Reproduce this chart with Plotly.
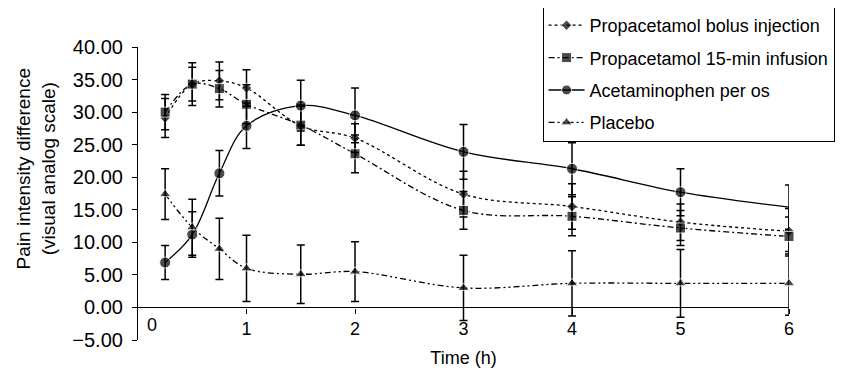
import plotly.graph_objects as go

time_h = [0.25, 0.5, 0.75, 1, 1.5, 2, 3, 4, 5, 6]

bolus = [29.1, 34.3, 34.8, 33.7, 27.9, 26.0, 17.4, 15.5, 13.1, 11.7]
bolus_err = [3.0, 3.3, 2.9, 2.8, 3.0, 2.2, 3.5, 3.5, 2.8, 3.5]

infusion = [30.0, 34.3, 33.6, 31.2, 28.0, 23.6, 14.9, 14.0, 12.2, 10.9]
infusion_err = [2.7, 2.6, 2.8, 3.0, 3.1, 2.9, 2.9, 3.0, 2.7, 3.0]

acetaminophen = [6.9, 11.2, 20.6, 27.9, 31.0, 29.5, 23.9, 21.3, 17.7, 15.4]
acetaminophen_err = [2.6, 3.5, 3.5, 3.5, 3.9, 4.2, 4.2, 4.0, 3.6, 3.4]

placebo = [17.4, 12.3, 9.0, 6.0, 5.1, 5.5, 3.0, 3.7, 3.7, 3.7]
placebo_err = [3.9, 4.3, 4.7, 5.1, 4.5, 4.6, 5.0, 5.0, 5.2, 4.9]

names = ["Propacetamol bolus injection", "Propacetamol 15-min infusion",
         "Acetaminophen per os", "Placebo"]

y_ticks = [-5, 0, 5, 10, 15, 20, 25, 30, 35, 40]
x_ticks = [1, 2, 3, 4, 5, 6]

FONT = "Liberation Sans, Arial, Helvetica, sans-serif"

series = [
    (names[0], bolus, bolus_err, "diamond", 8, "dot"),
    (names[1], infusion, infusion_err, "square", 10, "6px,3px,2px,3px"),
    (names[2], acetaminophen, acetaminophen_err, "circle", 11, "solid"),
    (names[3], placebo, placebo_err, "triangle-up", 10, "6px,3px,2px,3px,2px,3px"),
]

fig = go.Figure()
for i, (name, vals, err, sym, size, dash) in enumerate(series):
    sizes = [size] * len(vals)
    if name == "Acetaminophen per os":
        sizes[-1] = 0
    fig.add_trace(go.Scatter(
        x=time_h, y=vals, name=name, mode="lines+markers", legendgroup=f"g{i}",
        line=dict(color="black", width=1.3, dash=dash, shape="spline", smoothing=1.0),
        marker=dict(symbol=sym, size=sizes, color="black"),
        error_y=dict(type="data", array=err, visible=True, color="black",
                     thickness=1.5, width=4),
        cliponaxis=False,
    ))

fig.add_annotation(x=0, y=0, xref="x", yref="y", text="0", showarrow=False,
                   xanchor="center", yanchor="top", xshift=14, yshift=-6,
                   font=dict(family=FONT, size=18, color="black"))

# y-axis title (placed slightly above the axis centre, as in the original)
fig.add_annotation(x=-0.157, y=0.585, xref="paper", yref="paper",
                   text="Pain intensity difference<br>(visual analog scale)",
                   textangle=-90, showarrow=False, xanchor="center", yanchor="middle",
                   font=dict(family=FONT, size=19, color="black"))

fig.update_layout(
    width=846, height=372,
    margin=dict(l=130, r=65, t=39, b=40, autoexpand=False),
    paper_bgcolor="white", plot_bgcolor="white",
    font=dict(family=FONT, size=18, color="black"),
    showlegend=True,
    legend=dict(x=1.070, xanchor="right", y=1.14, yanchor="top",
                bgcolor="white", bordercolor="black", borderwidth=1,
                font=dict(family=FONT, size=18, color="black"),
                itemwidth=36, tracegroupgap=6),
    xaxis=dict(range=[0, 6], tickvals=x_ticks, ticktext=[str(t) for t in x_ticks],
               showgrid=False, zeroline=False, showline=True, linecolor="black",
               linewidth=1.2, ticks="outside", ticklen=5, tickcolor="black",
               anchor="free", position=5 / 45, automargin=False,
               title=dict(text="Time (h)", standoff=13,
                          font=dict(family=FONT, size=18))),
    yaxis=dict(range=[-5, 40], tickvals=y_ticks, tickformat=".2f",
               showgrid=False, zeroline=False, showline=True, linecolor="black",
               linewidth=1.2, ticks="outside", ticklen=5, tickcolor="black",
               ticklabelstandoff=5, automargin=False,
               tickfont=dict(family=FONT, size=20)),
)

fig.write_html("out.html")
